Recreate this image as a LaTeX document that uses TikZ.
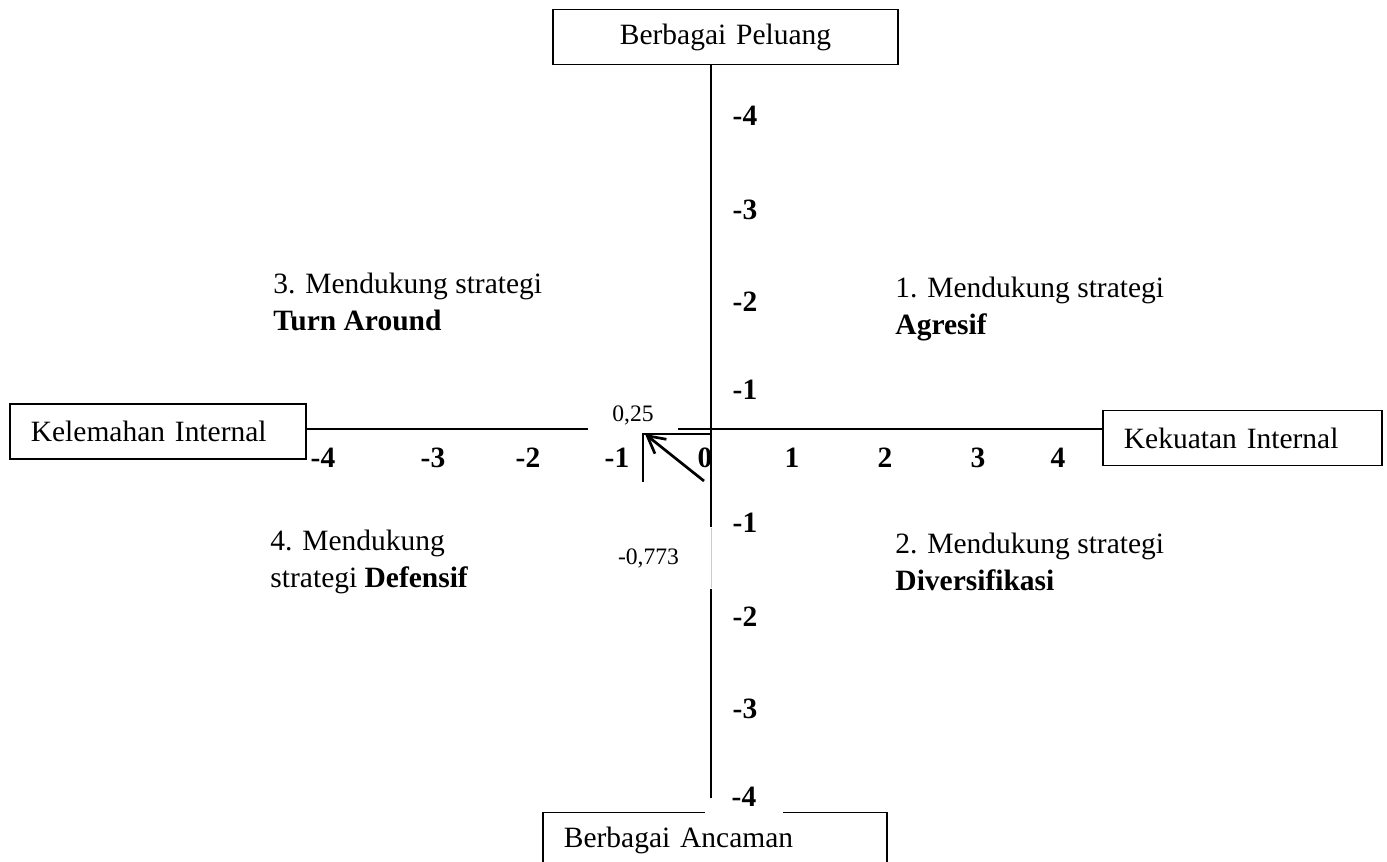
\documentclass[tikz,border=0pt]{standalone}
\usepackage{fontspec}
\setmainfont{Liberation Serif}
\usepackage{xcolor}
\usetikzlibrary{arrows.meta, calc, positioning}

\tikzset{
  sidebox/.style={draw, line width=0.6pt, minimum height=22.4pt, inner xsep=8.5pt, align=left, font=\fontsize{12}{14.4}\selectfont},
  axisline/.style={line width=0.6pt},
  vecline/.style={line width=1.1pt},
  tick/.style={font=\fontsize{12}{14.4}\selectfont\bfseries},
  quad/.style={anchor=north west, inner sep=0pt, align=left, font=\fontsize{12}{14.7}\selectfont},
  cover/.style={fill=white, inner sep=0pt, font=\fontsize{9.6}{11.5}\selectfont}
}

\begin{document}
\begin{tikzpicture}[x=0.407pt, y=-0.407pt, >=Stealth]
    \useasboundingbox (0,0) rectangle (1387,862);
    \clip (0,0) rectangle (1387,862);

    % Boxes at the axis ends
    \node[sidebox, align=center, text width=123.4pt] (peluang) at (725.5,37) {Berbagai Peluang};
    \node[sidebox, text width=103.5pt] (lemah) at (158,431.5) {Kelemahan Internal};
    \node[sidebox, text width=96.5pt] (kuat) at (1242.5,438) {Kekuatan Internal};
    \node[sidebox, text width=123pt] (ancaman) at (715,840) {Berbagai Ancaman};
    \node[tick, fill=white, minimum width=31.7pt, minimum height=14.6pt] (ybot) at (744,797) {-4};

    % Axes
    \coordinate (O) at (711,429);
    \coordinate (yend) at (711,798);
    \draw[axisline] (peluang.south -| O) -- (yend);
    \draw[axisline] (lemah.east |- O) -- (kuat.west |- O);

    % Values on the axes
    \node[cover, minimum width=36.6pt, minimum height=13pt] (xval) at (633,415) {0,25};
    \node[cover, minimum width=52pt, minimum height=25pt] (yval) at (648.5,558) {-0,773};
    \draw[black!20, line width=0.3pt] (711,528) -- (711,588);

    % Position of the point
    \coordinate (Lbot) at (643,482);
    \coordinate (Lcor) at (643,434);
    \coordinate (tail) at (704,481);
    \coordinate (tip) at (645,434);
    \draw[vecline] (Lbot) -- (Lcor) -- (Lcor -| O);
    \draw[vecline, -{Straight Barb[length=7pt, width=7.5pt]}] (tail) -- (tip);

    % Tick labels
    \foreach \px/\lab [count=\k] in {323/-4, 433/-3, 528/-2, 617/-1, 705/0, 792/1, 885/2, 978/3, 1058/4}
        \node[tick] (xt\k) at (\px,458) {\lab};
    \foreach \py/\lab [count=\k] in {116/-4, 210/-3, 302/-2, 390/-1, 523/-1, 617/-2, 709/-3}
        \node[tick] (yt\k) at (745,\py) {\lab};

    % Quadrants
    \node[quad] (q3) at (273,273) {3. Mendukung strategi\\\textbf{Turn Around}};
    \node[quad] (q1) at (895,277) {1. Mendukung strategi\\\textbf{Agresif}};
    \node[quad] (q4) at (270,530) {4. Mendukung\\strategi \textbf{Defensif}};
    \node[quad] (q2) at (895,533) {2. Mendukung strategi\\\textbf{Diversifikasi}};
\end{tikzpicture}
\end{document}
